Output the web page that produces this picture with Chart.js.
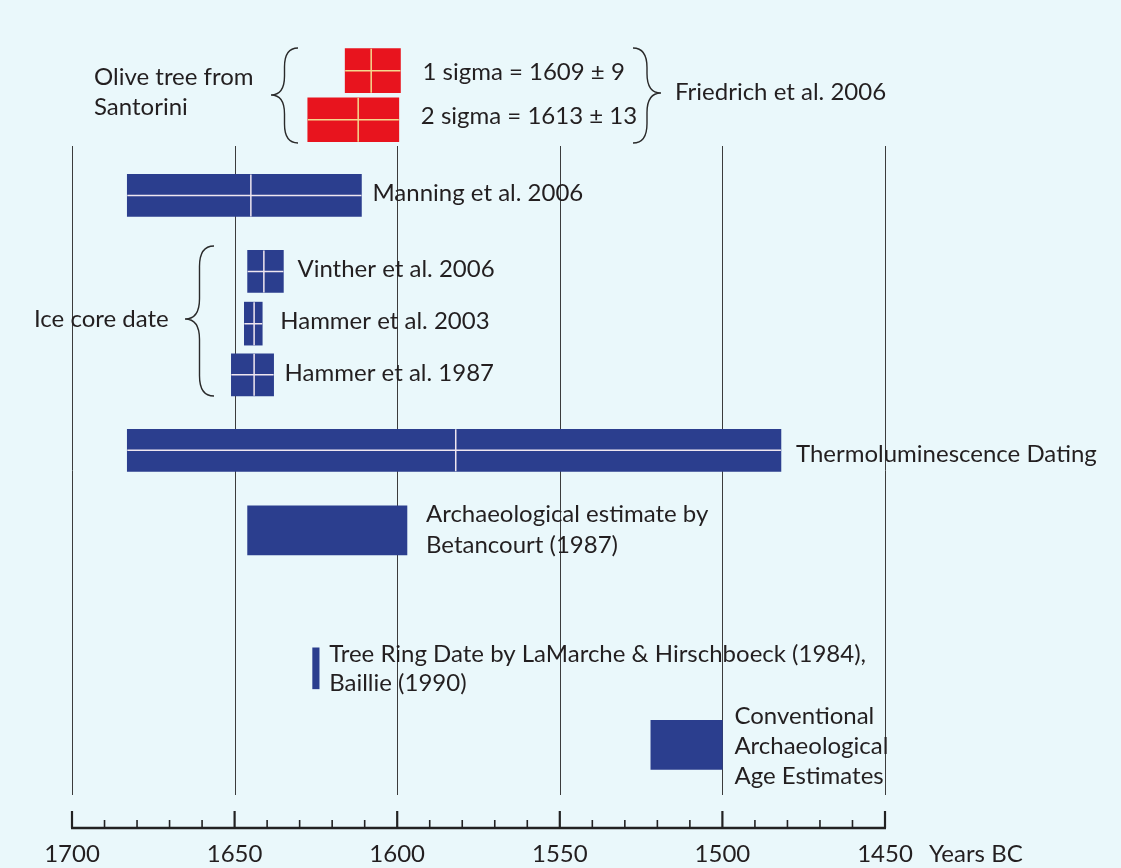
<!DOCTYPE html>
<html><head><meta charset="utf-8">
<script src="https://cdn.jsdelivr.net/npm/chart.js@4.4.1/dist/chart.umd.min.js"></script>
<style>html,body{margin:0;padding:0;background:#eaf8fb;}#wrap{width:1121px;height:868px;}</style>
</head><body><div id="wrap"><canvas id="c" width="1121" height="868"></canvas></div>
<script>
// ---- data ----
const categories = ['1 sigma', '2 sigma', 'Manning et al. 2006', 'Vinther et al. 2006', 'Hammer et al. 2003', 'Hammer et al. 1987', 'Thermoluminescence Dating', 'Betancourt (1987)', 'LaMarche & Hirschboeck (1984), Baillie (1990)', 'Conventional Archaeological Age Estimates'];
const startYears = [1616, 1627.5, 1683, 1646, 1647, 1651, 1683, 1646, 1626, 1522];
const endYears   = [1599, 1599.5, 1611, 1635, 1641.5, 1638, 1482, 1597, 1624, 1500];
const centerYears = [1608, 1612, 1645, 1641, 1644, 1644, 1582, null, null, null];
const barLabels = [
  ['1 sigma = 1609 \u00b1 9'],
  ['2 sigma = 1613 \u00b1 13'],
  ['Manning et al. 2006'],
  ['Vinther et al. 2006'],
  ['Hammer et al. 2003'],
  ['Hammer et al. 1987'],
  ['Thermoluminescence Dating'],
  ['Archaeological estimate by', 'Betancourt (1987)'],
  ['Tree Ring Date by LaMarche & Hirschboeck (1984),', 'Baillie (1990)'],
  ['Conventional', 'Archaeological', 'Age Estimates']
];
const tickYears = [1700, 1650, 1600, 1550, 1500, 1450];
const minorStep = 10;
const axisTitle = 'Years BC';

// ---- layout / style (not data) ----
const rowSlot = [1, 1.967, 3.46, 4.96, 5.99, 7.0, 8.49, 10.07, 12.79, 14.3];
const barPx   = [44, 44, 42, 42, 43, 42, 42, 49, 41, 49];
const RED = '#e8141e', BLUE = '#2b3e8e';
const barColor = [RED, RED, BLUE, BLUE, BLUE, BLUE, BLUE, BLUE, BLUE, BLUE];
const crossColor = ['#f4d98e', '#f4d98e', '#efe6f0', '#efe6f0', '#efe6f0', '#efe6f0', '#efe6f0'];
const labelDx = [22, 22, 11, 14, 18, 11, 15, 19, 10, 12];
const labelDy = [2, -3, -2, -2, -2, -2, 4, -16, -14, -29];
const lineGap = [30, 30, 30, 30, 30, 30, 30, 31, 29, 30];
const FONT = '24px Lato';
const TEXT = '#231f20';

function brace(ctx, xEnd, xTip, y1, y2, yMid) {
  const xs = (xEnd + xTip) / 2;
  const r = Math.abs(xEnd - xs);
  ctx.beginPath();
  ctx.moveTo(xEnd, y1);
  ctx.quadraticCurveTo(xs, y1, xs, y1 + r * 1.4);
  ctx.lineTo(xs, yMid - r * 1.4);
  ctx.quadraticCurveTo(xs, yMid, xTip, yMid);
  ctx.quadraticCurveTo(xs, yMid, xs, yMid + r * 1.4);
  ctx.lineTo(xs, y2 - r * 1.4);
  ctx.quadraticCurveTo(xs, y2, xEnd, y2);
  ctx.stroke();
}

const decor = {
  id: 'decor',
  beforeDatasetsDraw(chart) {
    const { ctx, scales: { x }, chartArea } = chart;
    ctx.save();
    ctx.strokeStyle = '#3c3c3c';
    ctx.lineWidth = 1;
    tickYears.forEach(v => {
      const px = Math.round(x.getPixelForValue(v)) + 0.5;
      ctx.beginPath();
      ctx.moveTo(px, 146);
      ctx.lineTo(px, chartArea.bottom - 33);
      ctx.stroke();
    });
    ctx.restore();
  },
  afterDatasetsDraw(chart) {
    const { ctx, scales: { x }, chartArea } = chart;
    ctx.save();
    chart.data.datasets.forEach((ds, i) => {
      const el = chart.getDatasetMeta(i).data[0];
      const p = el.getProps(['x', 'y', 'base', 'height'], true);
      const top = p.y - p.height / 2, bot = p.y + p.height / 2;
      if (centerYears[i] != null) {
        ctx.strokeStyle = crossColor[i];
        ctx.lineWidth = 1.5;
        const cx = x.getPixelForValue(centerYears[i]);
        ctx.beginPath();
        ctx.moveTo(cx, top); ctx.lineTo(cx, bot);
        ctx.moveTo(Math.min(p.x, p.base), p.y); ctx.lineTo(Math.max(p.x, p.base), p.y);
        ctx.stroke();
      }
      ctx.fillStyle = TEXT;
      ctx.font = FONT;
      ctx.textBaseline = 'middle';
      ctx.textAlign = 'left';
      const lx = Math.max(p.x, p.base) + labelDx[i];
      barLabels[i].forEach((t, k) => ctx.fillText(t, lx, p.y + labelDy[i] + k * lineGap[i]));
    });
    ctx.fillStyle = TEXT;
    ctx.font = FONT;
    ctx.textBaseline = 'middle';
    ctx.fillText('Olive tree from', 94, 77);
    ctx.fillText('Santorini', 94, 107);
    ctx.fillText('Friedrich et al. 2006', 675, 92);
    ctx.fillText('Ice core date', 34, 319);
    ctx.strokeStyle = '#2a2a2a';
    ctx.lineWidth = 1.4;
    brace(ctx, 298, 271, 48, 143, 95);
    brace(ctx, 633, 661, 48, 143, 93);
    brace(ctx, 214, 185, 246, 396, 319);
    const yA = chartArea.bottom;
    const x0 = x.getPixelForValue(tickYears[0]);
    const x1 = x.getPixelForValue(tickYears[tickYears.length - 1]);
    ctx.strokeStyle = '#222';
    ctx.lineWidth = 2.5;
    ctx.beginPath(); ctx.moveTo(x0 - 1, yA); ctx.lineTo(x1 + 1, yA); ctx.stroke();
    for (let v = tickYears[0]; v >= tickYears[tickYears.length - 1]; v -= minorStep) {
      const major = tickYears.includes(v);
      const px = x.getPixelForValue(v);
      ctx.lineWidth = major ? 2.2 : 1.6;
      ctx.beginPath(); ctx.moveTo(px, yA); ctx.lineTo(px, yA - (major ? 17 : 8)); ctx.stroke();
    }
    ctx.fillStyle = TEXT;
    ctx.textAlign = 'center';
    tickYears.forEach(v => ctx.fillText(String(v), x.getPixelForValue(v), yA + 26));
    ctx.textAlign = 'left';
    ctx.fillText(axisTitle, 929, yA + 26);
    ctx.restore();
  }
};

new Chart(document.getElementById('c'), {
  type: 'bar',
  data: {
    datasets: categories.map((c, i) => ({
      label: c,
      data: [{ x: [startYears[i], endYears[i]], y: rowSlot[i] }],
      backgroundColor: barColor[i],
      barThickness: barPx[i],
      grouped: false,
      borderWidth: 0
    }))
  },
  options: {
    indexAxis: 'y',
    responsive: false,
    animation: false,
    layout: { padding: { left: 72, right: 236, top: 20, bottom: 40 } },
    scales: {
      x: { type: 'linear', min: 1450, max: 1700, reverse: true, display: false, offset: false },
      y: { type: 'linear', min: 0, max: 15.94, reverse: true, display: false, offset: false }
    },
    plugins: { legend: { display: false }, tooltip: { enabled: false } }
  },
  plugins: [decor]
});
</script></body></html>
